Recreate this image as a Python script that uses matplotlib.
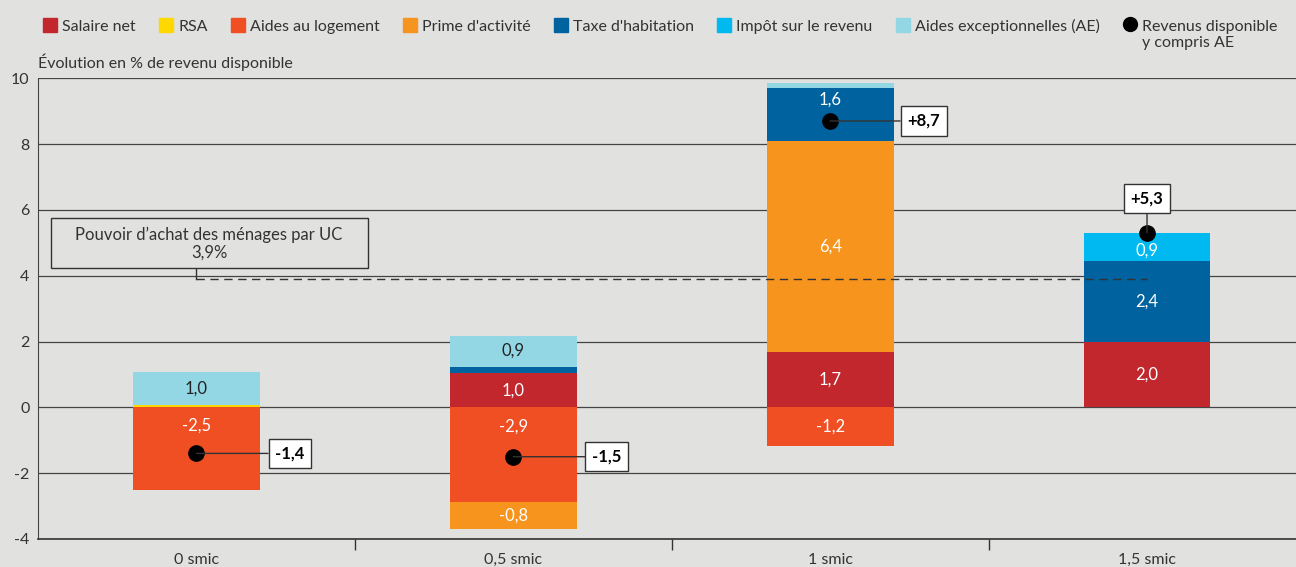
import numpy as np
import matplotlib.pyplot as plt
from matplotlib.lines import Line2D
from matplotlib.patches import Patch, Rectangle

plt.rcParams['font.family'] = ['Lato', 'DejaVu Sans']

# data
categories = ['0 smic', '0,5 smic', '1 smic', '1,5 smic']
salaire_net = [0.0, 1.04, 1.67, 2.0]
rsa = [0.06, 0.0, 0.0, 0.0]
aides_logement = [-2.52, -2.87, -1.16, 0.0]
prime_activite = [0.0, -0.83, 6.43, 0.0]
taxe_habitation = [0.0, 0.2, 1.59, 2.44]
impot_revenu = [0.0, 0.0, 0.0, 0.86]
aides_exceptionnelles = [1.0, 0.94, 0.15, 0.0]
revenu_disponible = [-1.4, -1.5, 8.7, 5.3]
pouvoir_achat = 3.9

series = [
    ('Salaire net', salaire_net, '#C1272D', 'white'),
    ('RSA', rsa, '#FFD800', '#222222'),
    ('Aides au logement', aides_logement, '#F04E23', 'white'),
    ("Prime d'activité", prime_activite, '#F7941D', 'white'),
    ("Taxe d'habitation", taxe_habitation, '#00629E', 'white'),
    ('Impôt sur le revenu', impot_revenu, '#00B9F1', 'white'),
    ('Aides exceptionnelles (AE)', aides_exceptionnelles, '#93D7E4', '#222222'),
]

bg = '#E1E1E0'
fig = plt.figure(figsize=(12.96, 5.67), dpi=100, facecolor=bg)
ax = fig.add_axes([0.0293, 0.0494, 0.978, 0.8127], facecolor=bg)

x = np.arange(len(categories))
width = 0.40
pos_base = np.zeros(len(x))
neg_base = np.zeros(len(x))

for name, vals, color, tcol in series:
    vals = np.array(vals)
    bottoms = np.where(vals >= 0, pos_base, neg_base)
    ax.bar(x, vals, width, bottom=bottoms, color=color, zorder=3, linewidth=0)
    for i, v in enumerate(vals):
        if abs(v) < 0.5:
            continue
        lo, hi = sorted([bottoms[i], bottoms[i] + v])
        d = revenu_disponible[i]
        if lo + 0.3 < d < hi - 0.3:
            # keep the label clear of the dot
            if hi - d > d - lo:
                ly = (d + hi) / 2 + 0.15
            else:
                ly = (d + lo) / 2 - 0.15
        else:
            ly = (lo + hi) / 2
            if abs(d - hi) < 0.3:
                ly -= 0.1
        ax.text(x[i], ly, f'{v:.1f}'.replace('.', ','), ha='center', va='center',
                color=tcol, fontsize=12, zorder=5)
    pos_base = pos_base + np.where(vals > 0, vals, 0)
    neg_base = neg_base + np.where(vals < 0, vals, 0)

# purchasing power reference line
ax.plot([x[0], x[-1]], [pouvoir_achat, pouvoir_achat], color='#333333', lw=1,
        ls=(0, (6, 4)), zorder=4)
ax.plot([x[0], x[0]], [pouvoir_achat, 4.22], color='#333333', lw=1, zorder=4)
ax.add_patch(Rectangle((-0.46, 4.22), 1.0, 1.52, fc=bg, ec='#333333', lw=1, zorder=4))
ax.text(0.04, 4.98, "Pouvoir d’achat des ménages par UC\n" + f'{pouvoir_achat:.1f}%'.replace('.', ','),
        ha='center', va='center', fontsize=12, color='#333333', zorder=5,
        linespacing=1.1)

# disposable income dots
for i, v in enumerate(revenu_disponible):
    lab = (f'{v:+.1f}' if v > 0 else f'{v:.1f}').replace('.', ',')
    ax.plot(x[i], v, 'o', color='black', ms=11, zorder=6)
    if i < 3:
        tx, ty = x[i] + 0.295, v
    else:
        tx, ty = x[i], v + 1.05
    ax.annotate(lab, xy=(x[i], v), xytext=(tx, ty), ha='center', va='center',
                fontsize=12, fontweight='bold', color='black', zorder=7,
                bbox=dict(boxstyle='square,pad=0.4', fc='white', ec='#333333', lw=1),
                arrowprops=dict(arrowstyle='-', color='#333333', lw=1,
                                shrinkA=0, shrinkB=0))

ax.set_xlim(-0.5, 3.5)
ax.set_ylim(-4, 10)
ax.set_yticks(np.arange(-4, 11, 2))
ax.set_yticklabels([str(t) for t in range(-4, 11, 2)], fontsize=11.5, color='#333333')
ax.set_xticks(x)
ax.set_xticklabels(categories, fontsize=11.5, color='#333333')
ax.set_xticks([0.5, 1.5, 2.5], minor=True)
ax.tick_params(axis='x', which='major', length=0, pad=10)
ax.tick_params(axis='x', which='minor', length=8, width=1, color='#333333', direction='out')
ax.tick_params(axis='y', length=0, pad=6)
ax.grid(axis='y', color='#444444', lw=0.9, zorder=1)
for s in ['top', 'right']:
    ax.spines[s].set_visible(False)
ax.spines['left'].set_color('#444444')
ax.spines['bottom'].set_color('#333333')
ax.spines['bottom'].set_linewidth(1.2)

fig.text(0.029, 0.89, 'Évolution en % de revenu disponible', fontsize=11.5,
         color='#333333', ha='left', va='center')

handles = [Patch(color=c, label=n) for n, _, c, _ in series]
handles.append(Line2D([], [], marker='o', ls='', color='black', ms=10,
                      label='Revenus disponible'))
leg = fig.legend(handles=handles, loc='upper left', bbox_to_anchor=(0.019, 1.0),
                 ncol=8, frameon=False, fontsize=11.5, handlelength=0.9,
                 handleheight=0.9, handletextpad=0.3, columnspacing=1.45,
                 borderaxespad=0.75)
for t in leg.get_texts():
    t.set_color('#333333')

# second line of the last legend entry
fig.canvas.draw()
bb = leg.get_texts()[-1].get_window_extent().transformed(fig.transFigure.inverted())
fig.text(bb.x0, bb.y0 - 0.005, 'y compris AE', fontsize=11.5, color='#333333',
         ha='left', va='top')

fig.savefig('out.png', dpi=100, facecolor=bg)
